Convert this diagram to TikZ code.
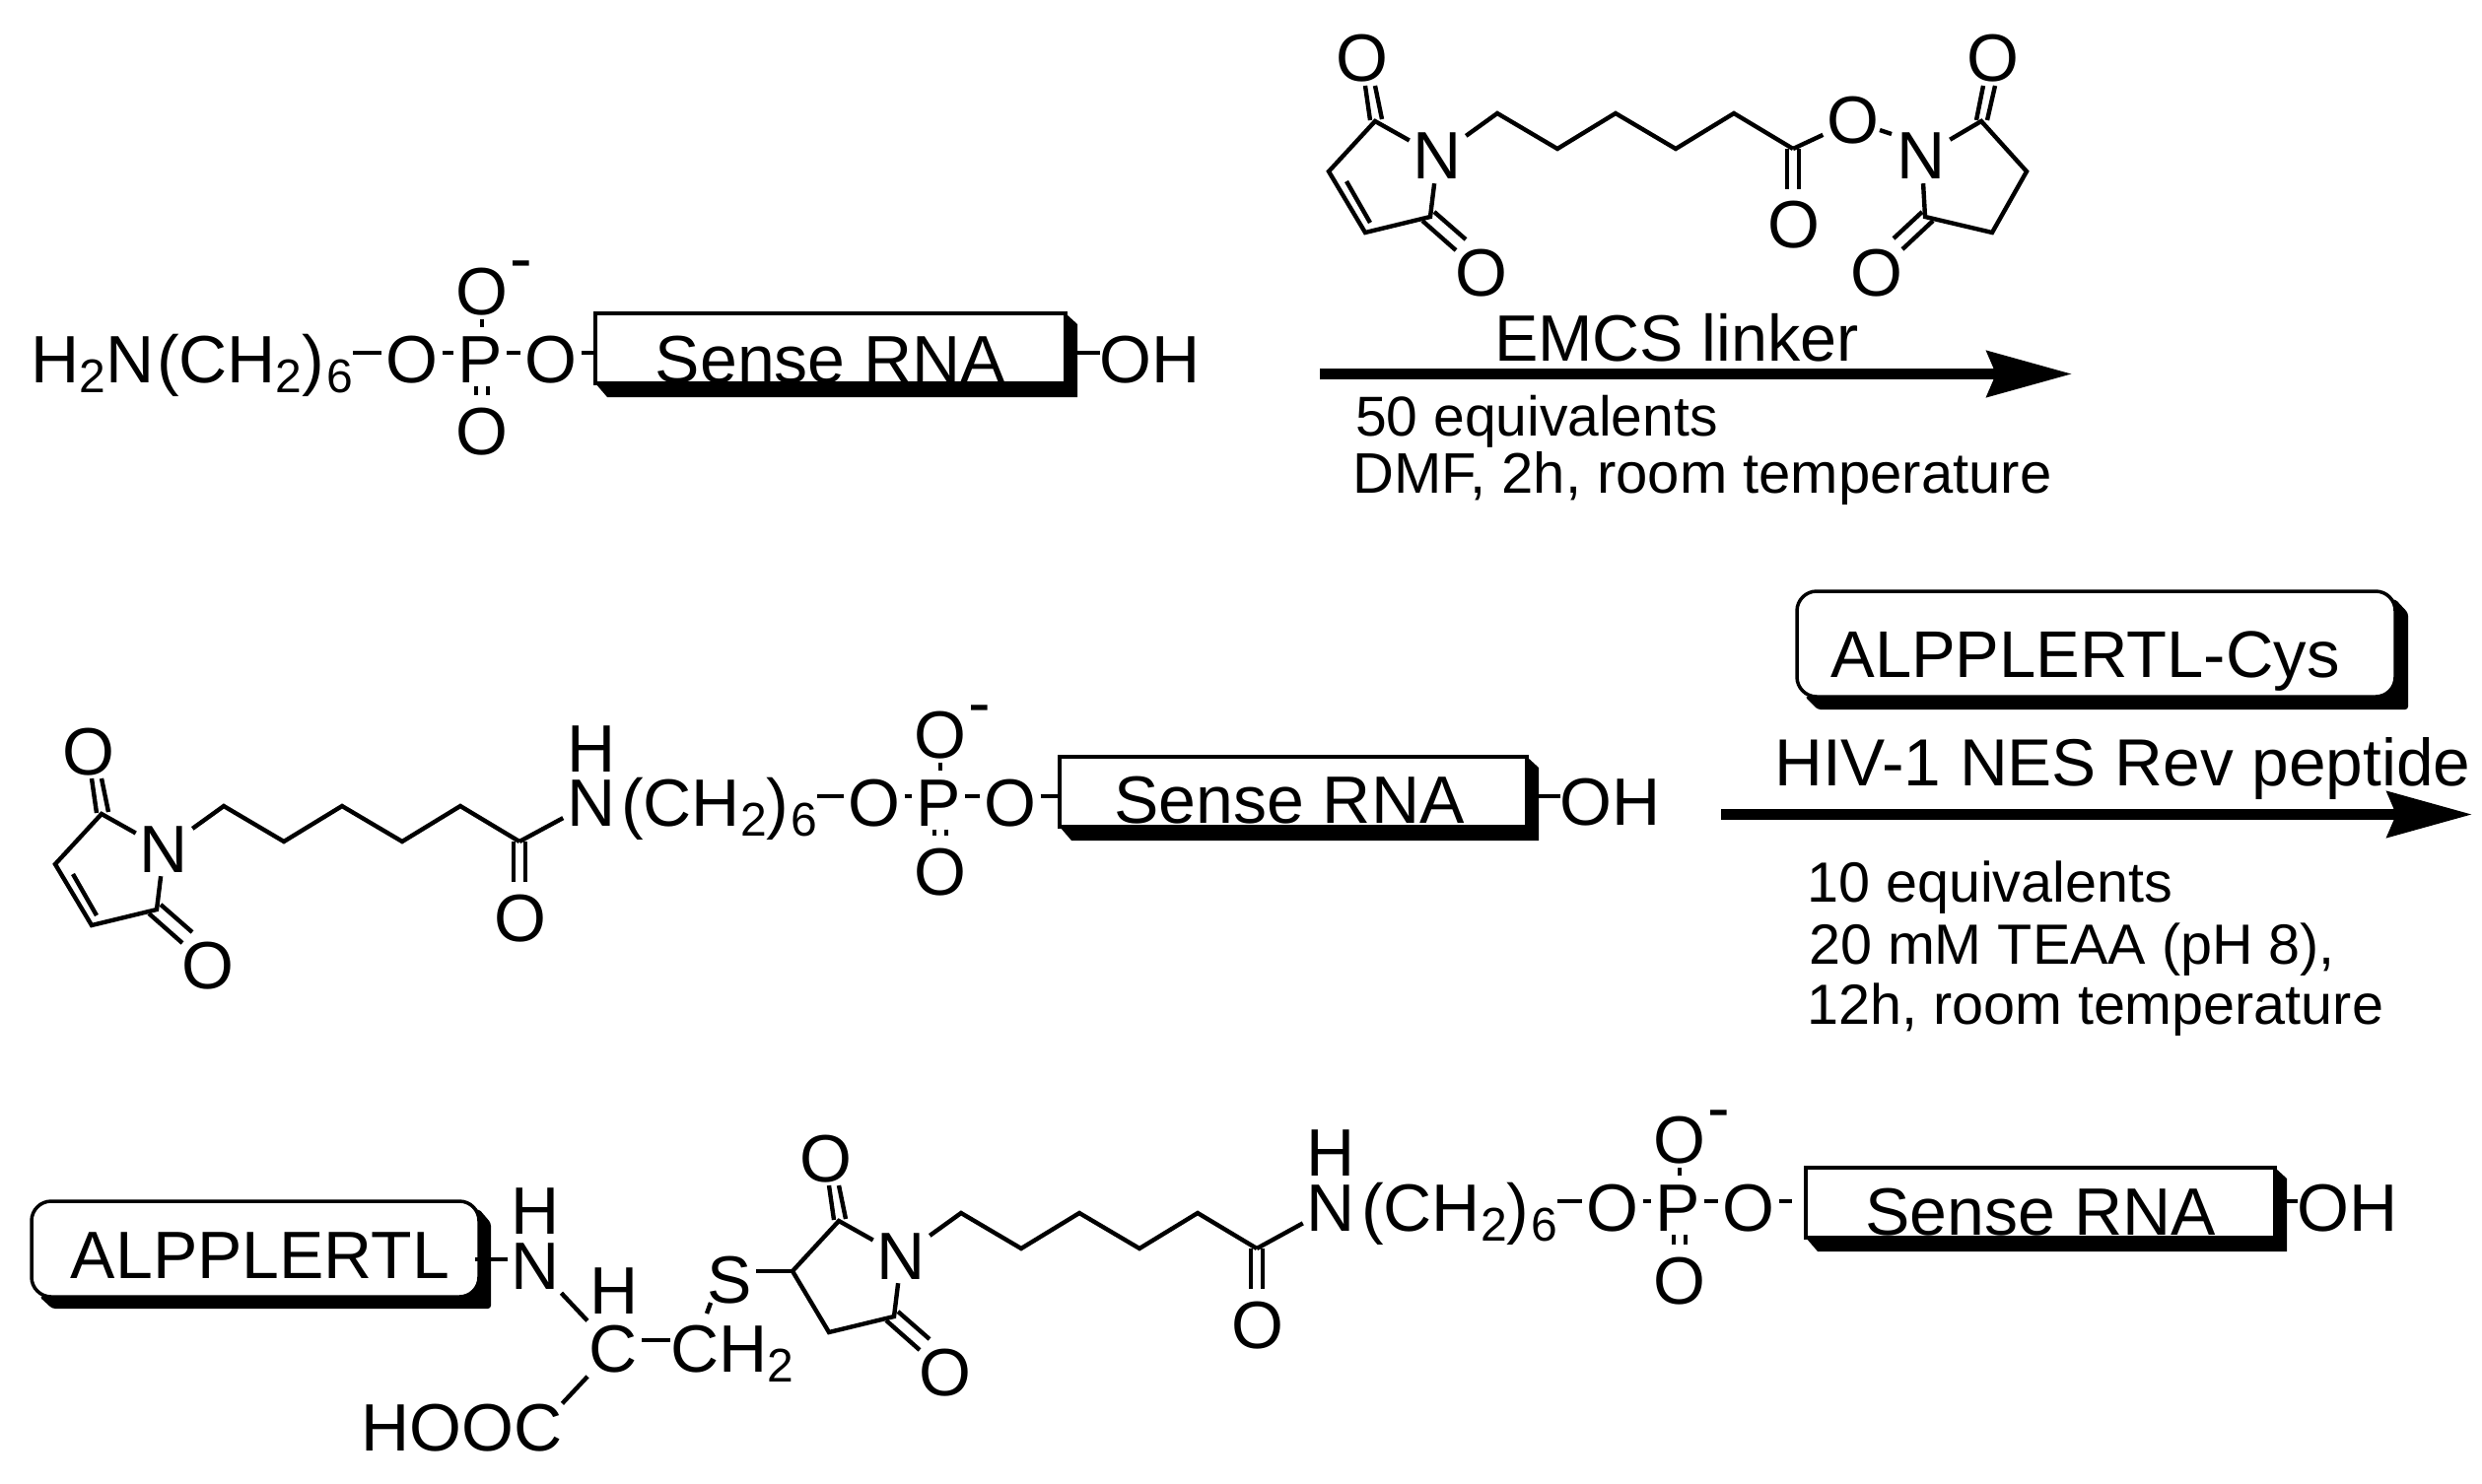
\documentclass[tikz,border=0pt]{standalone}
\usepackage{fontspec}
\setmainfont{Liberation Sans}
\usetikzlibrary{arrows.meta,backgrounds}
\newcommand{\sbs}[1]{\raisebox{-10pt}{\fontsize{48}{48}\selectfont #1}}
\newcommand{\sbk}[1]{\hspace{2pt}\sbs{#1}}
\tikzset{
  atom/.style={font=\fontsize{68}{68}\selectfont,inner sep=4pt,anchor=base},
  txt/.style={font=\fontsize{68}{68}\selectfont,inner sep=0pt,anchor=base west},
  cond/.style={font=\fontsize{57.5}{57.5}\selectfont,inner sep=0pt,anchor=base west},
  bond/.style={line width=4.4pt,line cap=butt},
  rnabox/.style={draw,fill=white,line width=3.5pt,inner sep=0pt,outer sep=0pt,anchor=south west,font=\fontsize{68}{68}\selectfont},
  pepbox/.style={draw,fill=white,line width=3.5pt,rounded corners=20pt,inner sep=0pt,outer sep=0pt,anchor=south west,font=\fontsize{67}{67}\selectfont},
  bigarrow/.style={line width=11pt,-{Stealth[length=86pt,width=46pt,inset=9pt]}},
}
% imide ring with the six-carbon chain and its carbonyl, in first-row coordinates
\newcommand{\imide}{%
  \node[atom] (ot) at (1382,83) {O};
  \node[atom] (n) at (1458.5,182) {N};
  \node[atom] (ol) at (1503,300) {O};
  \node[atom] (oc) at (1820,252) {O};
  \coordinate (c1) at (1395,123);
  \coordinate (c2) at (1348,174);
  \coordinate (c3) at (1385,236);
  \coordinate (c4) at (1451,220);
  \draw[bond] (n) -- (c1) -- (c2) -- (c3) -- (c4) -- (n);
  \coordinate (t1) at (1385,87);  \coordinate (t2) at (1390,122);
  \coordinate (t3) at (1395,87);  \coordinate (t4) at (1402,121);
  \draw[bond] (t1) -- (t2); \draw[bond] (t3) -- (t4);
  \coordinate (l1) at (1443,224); \coordinate (l2) at (1477,254);
  \coordinate (l3) at (1455,215); \coordinate (l4) at (1487,243);
  \draw[bond] (l1) -- (l2); \draw[bond] (l3) -- (l4);
  \coordinate (k1) at (1519,115);
  \coordinate (k2) at (1580,151);
  \coordinate (k3) at (1639,115);
  \coordinate (k4) at (1700,151);
  \coordinate (k5) at (1759,115);
  \coordinate (k6) at (1819,151);
  \draw[bond] (n) -- (k1) -- (k2) -- (k3) -- (k4) -- (k5) -- (k6);
  \coordinate (m1) at (1813,151); \coordinate (m2) at (1813,192);
  \coordinate (m3) at (1825,151); \coordinate (m4) at (1825,192);
  \draw[bond] (m1) -- (m2); \draw[bond] (m3) -- (m4);
}
\newcommand{\imideinner}{%
  \coordinate (i1) at (1366,184); \coordinate (i2) at (1390,226);
  \draw[bond] (i1) -- (i2);
}
% phosphate + Sense RNA box: O1x, Px, O2x, left, right, baseline, box bottom, text depth, lower O offset
\def\rnagap{0}
\def\rnashift{0}
\newcommand{\rnagroup}[9]{%
  \coordinate (lev) at (0,#6-30);
  \node[atom] (oa) at (#1,#6) {O};
  \node[atom] (p) at (#2,#6) {P};
  \node[atom] (ob) at (#3,#6) {O};
  \node[atom] (ou) at (#2+2,#6-69) {O};
  \node[atom] (od) at (#2+2,#6+#9) {O};
  \node[txt,anchor=base] (mn) at (#2+42,#6-102) {-};
  \pgfmathsetmacro{\bw}{#5-#4}
  \pgfmathsetmacro{\bh}{71-#8}
  \node[rnabox,minimum width=\bw pt,text height=\bh pt,text depth=#8 pt] (box) at (#4,#7) {Sense RNA\kern\rnashift pt};
  \begin{scope}[on background layer]
  \fill (box.south west) -- ([shift={(12pt,-14pt)}]box.south west) -- ([shift={(12pt,-14pt)}]box.south east)
        -- ([shift={(12pt,-11pt)}]box.north east) -- (box.north east) -- cycle;
  \end{scope}
  \coordinate (sr) at ([xshift=12pt]box.east);
  \coordinate (be) at ([xshift=-\rnagap pt]box.west);
  \draw[bond] (oa.east |- lev) -- (p.west |- lev);
  \draw[bond] (p.east |- lev) -- (ob.west |- lev);
  \draw[bond] (ob.east |- lev) -- (be |- lev);
  \draw[bond] (ou) -- (p.north -| ou) [shorten >=5pt];
  \coordinate (pd) at (p.south -| od.north);
  \draw[bond] ([xshift=-6pt]pd) -- ([xshift=-6pt]od.north) [shorten >=8pt];
  \draw[bond] ([xshift=6pt]pd) -- ([xshift=6pt]od.north) [shorten >=8pt];
}
\begin{document}
\begin{tikzpicture}[x=1pt,y=-1pt]
\useasboundingbox (0,0) rectangle (2518,1506);
\begin{scope}[on background layer]
  \fill[white] (0,0) rectangle (2518,1506);
\end{scope}

% ---------- row 1 ----------
\node[txt] (h1) at (31,388) {H\sbs{2}N\hspace{3pt}(CH\sbs{2})\sbk{6}};
\begin{scope}[name prefix=r1-]
  \rnagroup{418}{487}{559}{604}{1081}{388}{389}{1}{73}
\end{scope}
\draw[bond] (h1.east |- r1-lev) -- (r1-oa.west |- r1-lev);
\node[txt] (oh1) at (1115.6,388) {OH};
\draw[bond] (r1-sr |- r1-lev) -- (oh1.west |- r1-lev);

% ---------- EMCS linker ----------
\begin{scope}[name prefix=a-]
  \imide \imideinner
  \node[atom] (oe) at (1880,146) {O};
  \draw[bond] (k6) -- (oe);
  \node[atom] (nb) at (1949.5,182) {N};
  \coordinate (oe1) at (1907,132); \coordinate (oe2) at (1919,136);
  \draw[bond] (oe1) -- (oe2);
  \coordinate (d1) at (2010,123);
  \coordinate (d2) at (2056,174);
  \coordinate (d3) at (2021,236);
  \coordinate (d4) at (1953,220);
  \draw[bond] (nb) -- (d1) -- (d2) -- (d3) -- (d4) -- (nb);
  \node[atom] (ot2) at (2022,83) {O};
  \node[atom] (ol2) at (1904,300) {O};
  \coordinate (u1) at (2005,122); \coordinate (u2) at (2012,87);
  \coordinate (u3) at (2016,122); \coordinate (u4) at (2024,87);
  \draw[bond] (u1) -- (u2); \draw[bond] (u3) -- (u4);
  \coordinate (v1) at (1950,215); \coordinate (v2) at (1921,242);
  \coordinate (v3) at (1961,224); \coordinate (v4) at (1930,253);
  \draw[bond] (v1) -- (v2); \draw[bond] (v3) -- (v4);
\end{scope}
\node[txt,font=\fontsize{66.5}{66.5}\selectfont] (emcs) at (1516,366) {EMCS linker};
\coordinate (ar1s) at (1339,379.5);
\coordinate (ar1e) at (2102,379.5);
\draw[bigarrow] (ar1s) -- (ar1e);
\node[cond,font=\fontsize{57}{57}\selectfont] (c50) at (1375,442) {50 equivalents};
\node[cond,font=\fontsize{58}{58}\selectfont] (cdmf) at (1372,500) {DMF, 2h, room temperature};

% ---------- row 2 ----------
\begin{scope}[shift={(-1292,703)},name prefix=b-]
  \imide \imideinner
\end{scope}
\node[atom] (n2) at (600,838) {N};
\node[atom] (h2) at (600,783) {H};
\draw[bond] (b-k6) -- (n2);
\node[txt] (ch2) at (630,838) {(CH\sbs{2})\sbk{6}};
\begin{scope}[name prefix=r2-]
  \def\rnagap{2}
  \def\rnashift{8}
  \rnagroup{887}{952}{1025}{1075}{1549}{838}{839}{4}{70}
\end{scope}
\draw[bond] (ch2.east |- r2-lev) -- (r2-oa.west |- r2-lev);
\node[txt] (oh2) at (1582.6,837) {OH};
\draw[bond] (r2-sr |- r2-lev) -- (oh2.west |- r2-lev);

% ---------- second reagent ----------
\node[pepbox,minimum width=607pt,text height=87pt,text depth=20pt] (pep1) at (1823,707) {ALPPLERTL-Cys\kern22pt};
\begin{scope}[on background layer]
  \fill[rounded corners=3pt] ([xshift=8pt]pep1.south west) -- ([shift={(21pt,-13pt)}]pep1.south west)
     -- ([shift={(13pt,-13pt)}]pep1.south east) -- ([shift={(13pt,-22pt)}]pep1.north east)
     -- ([yshift=-8pt]pep1.north east) -- cycle;
\end{scope}
\node[txt,font=\fontsize{67.6}{67.6}\selectfont] (hiv) at (1800,797) {HIV-1 NES Rev peptide};
\coordinate (ar2s) at (1746,826.5);
\coordinate (ar2e) at (2508,826.5);
\draw[bigarrow] (ar2s) -- (ar2e);
\node[cond] (c10) at (1833,915) {10 equivalents};
\node[cond] (c20) at (1835,978) {20 mM TEAA (pH 8),};
\node[cond] (c12) at (1833,1039) {12h, room temperature};

% ---------- row 3 ----------
\node[pepbox,font=\fontsize{68}{68}\selectfont,minimum width=454pt,text height=78pt,text depth=19pt] (pep2) at (32,1316) {\hspace{10pt}ALPPLERTL};
\begin{scope}[on background layer]
  \fill[rounded corners=3pt] ([xshift=8pt]pep2.south west) -- ([shift={(21pt,-12pt)}]pep2.south west)
     -- ([shift={(12pt,-12pt)}]pep2.south east) -- ([shift={(12pt,-22pt)}]pep2.north east)
     -- ([yshift=-8pt]pep2.north east) -- cycle;
\end{scope}
\node[atom] (n3a) at (543.5,1308) {N};
\node[atom] (h3a) at (543.5,1252) {H};
\coordinate (lv3) at (0,1278);
\draw[bond] ([xshift=-4pt]pep2.east |- lv3) -- (n3a.west |- lv3);
\node[atom] (hc) at (623,1333) {H};
\node[atom] (cc) at (622.5,1392) {C};
\draw[bond] (n3a) -- (cc);
\node[txt] (cs) at (680,1392) {CH\sbs{2}};
\coordinate (lv4) at (0,1360);
\draw[bond] (cc.east |- lv4) -- (cs.west |- lv4);
\node[atom] (s3) at (740.5,1322) {S};
\coordinate (s3a) at (721,1322); \coordinate (s3b) at (717,1333);
\draw[bond] (s3a) -- (s3b);
\node[txt] (hooc) at (366,1472) {HOOC};
\draw[bond] (cc) -- (hooc.north east);
\begin{scope}[shift={(-544,1116)},name prefix=c-]
  \imide
\end{scope}
\draw[bond] (s3.east |- c-c2) -- (c-c2);
\node[atom] (n3) at (1350.5,1249) {N};
\node[atom] (h3) at (1350.5,1193) {H};
\draw[bond] (c-k6) -- (n3);
\node[txt] (ch3) at (1381,1249) {(CH\sbs{2})\sbk{6}};
\begin{scope}[name prefix=r3-]
  \def\rnagap{14}
  \def\rnashift{0}
  \rnagroup{1636}{1702}{1774}{1832}{2308}{1249}{1256}{3}{74}
\end{scope}
\draw[bond] (ch3.east |- r3-lev) -- (r3-oa.west |- r3-lev);
\node[txt] (oh3) at (2330.6,1249) {OH};
\draw[bond] (r3-sr |- r3-lev) -- (oh3.west |- r3-lev);
\end{tikzpicture}
\end{document}
